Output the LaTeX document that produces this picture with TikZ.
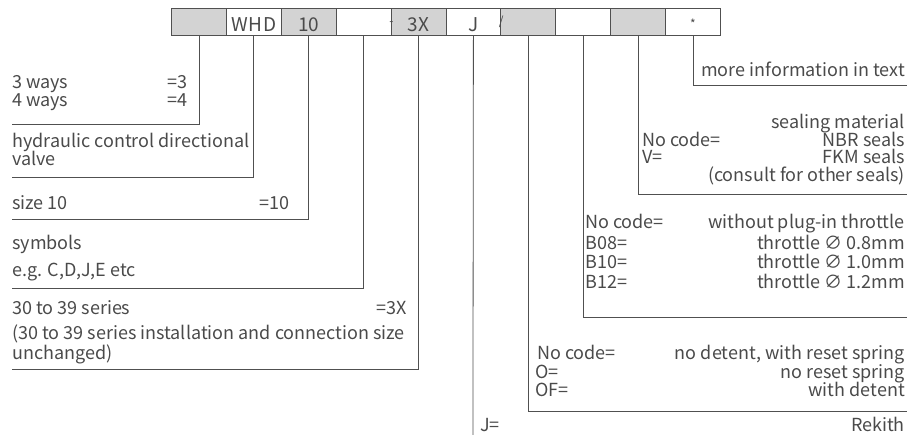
\documentclass[tikz,border=0pt]{standalone}
\usepackage{fontspec}
\setmainfont{Noto Sans CJK SC}
\definecolor{linec}{HTML}{505050}
\definecolor{cellgrey}{HTML}{D3D3D3}
\definecolor{txt}{HTML}{4A4A4A}
\tikzset{
  cell/.style={draw=linec, line width=0.9pt, minimum width=54.9pt, minimum height=27pt, inner sep=0pt, anchor=north west, font=\fontsize{19}{22}\selectfont, text=txt, text height=20pt, text depth=0pt},
  greycell/.style={cell, fill=cellgrey},
  conn/.style={draw=linec, line width=0.8pt},
  lw/.style={anchor=base west, inner sep=0pt, font=\fontsize{18}{21}\selectfont, text=txt},
  le/.style={anchor=base east, inner sep=0pt, font=\fontsize{18}{21}\selectfont, text=txt},
  sepmark/.style={inner sep=0pt, font=\fontsize{12}{14}\selectfont, text=txt}
}
\begin{document}
\begin{tikzpicture}[x=1pt,y=-1pt]
\useasboundingbox (0,0) rectangle (908,435);
% code boxes
\node[greycell] (b1) at (171,8) {};
\node[cell] (b2) at (225.9,8) {\addfontfeatures{LetterSpace=4}WHD};
\node[greycell] (b3) at (280.8,8) {10};
\node[cell] (b4) at (335.7,8) {};
\node[greycell] (b5) at (390.6,8) {3X};
\node[cell] (b6) at (445.5,8) {J};
\node[greycell] (b7) at (500.4,8) {};
\node[cell] (b8) at (555.3,8) {};
\node[greycell] (b9) at (610.2,8) {};
\node[cell, font=\fontsize{12}{14}\selectfont, text height=14pt] (b10) at (665.1,8) {*};
\node[sepmark] (dash) at ([yshift=-1.5pt]b4.east) {-};
\node[sepmark] (slash) at (b6.east) {/};
% end points
\coordinate (e1) at (12,124);
\coordinate (e2) at (12,177);
\coordinate (e3) at (12,219);
\coordinate (e4) at (12,288);
\coordinate (e5) at (12,369);
\coordinate (e6) at (472.95,435);
\coordinate (e7) at (907,411);
\coordinate (e8) at (907,317);
\coordinate (e9) at (907,194);
\coordinate (e10) at (907,85);
% connectors
\draw[conn] (b1.south) |- (e1);
\draw[conn] (b2.south) |- (e2);
\draw[conn] (b3.south) |- (e3);
\draw[conn] (b4.south) |- (e4);
\draw[conn] (b5.south) |- (e5);
\draw[conn] (b6.south) -- (e6);
\draw[conn] (b7.south) |- (e7);
\draw[conn] (b8.south) |- (e8);
\draw[conn] (b9.south) |- (e9);
\draw[conn] (b10.south) |- (e10);
% left texts
\node[lw] (t1a) at (12,89) {3 ways};
\node[le] (t1b) at (188,89) {=3};
\node[lw] (t1c) at (12,107) {4 ways};
\node[le] (t1d) at (188,107) {=4};
\node[lw] (t2a) at (12,148) {hydraulic control directional};
\node[lw] (t2b) at (12,166) {valve};
\node[lw] (t3a) at (12,210) {size 10};
\node[le] (t3b) at (290,210) {=10};
\node[lw] (t4a) at (12,250) {symbols};
\node[lw] (t4b) at (12,277) {e.g. C,D,J,E etc};
\node[lw] (t5a) at (12,315) {30 to 39 series};
\node[le] (t5b) at (407,315) {=3X};
\node[lw] (t5c) at (12,340) {(30 to 39 series installation and connection size};
\node[lw] (t5d) at (12,360) {unchanged)};
% right texts
\node[le] (t10) at (905,77) {more information in text};
\node[le] (t9a) at (905,129) {sealing material};
\node[lw] (t9b) at (642,147) {No code=};
\node[le] (t9c) at (905,147) {NBR seals};
\node[lw] (t9d) at (642,164) {V=};
\node[le] (t9e) at (905,164) {FKM seals};
\node[le] (t9f) at (905,182) {(consult for other seals)};
\node[lw] (t8a) at (585,229) {No code=};
\node[le] (t8b) at (905,229) {without plug-in throttle};
\node[lw] (t8c) at (585,250) {B08=};
\node[le] (t8d) at (905,250) {throttle ∅ 0.8mm};
\node[lw] (t8e) at (585,269) {B10=};
\node[le] (t8f) at (905,269) {throttle ∅ 1.0mm};
\node[lw] (t8g) at (585,289) {B12=};
\node[le] (t8h) at (905,289) {throttle ∅ 1.2mm};
\node[lw] (t7a) at (537,360) {No code=};
\node[le] (t7b) at (905,360) {no detent, with reset spring};
\node[lw] (t7c) at (535,379) {O=};
\node[le] (t7d) at (905,379) {no reset spring};
\node[lw] (t7e) at (535,397) {OF=};
\node[le] (t7f) at (905,397) {with detent};
\node[lw] (t6a) at (480,432) {J=};
\node[le] (t6b) at (905,432) {Rekith};
\end{tikzpicture}
\end{document}
